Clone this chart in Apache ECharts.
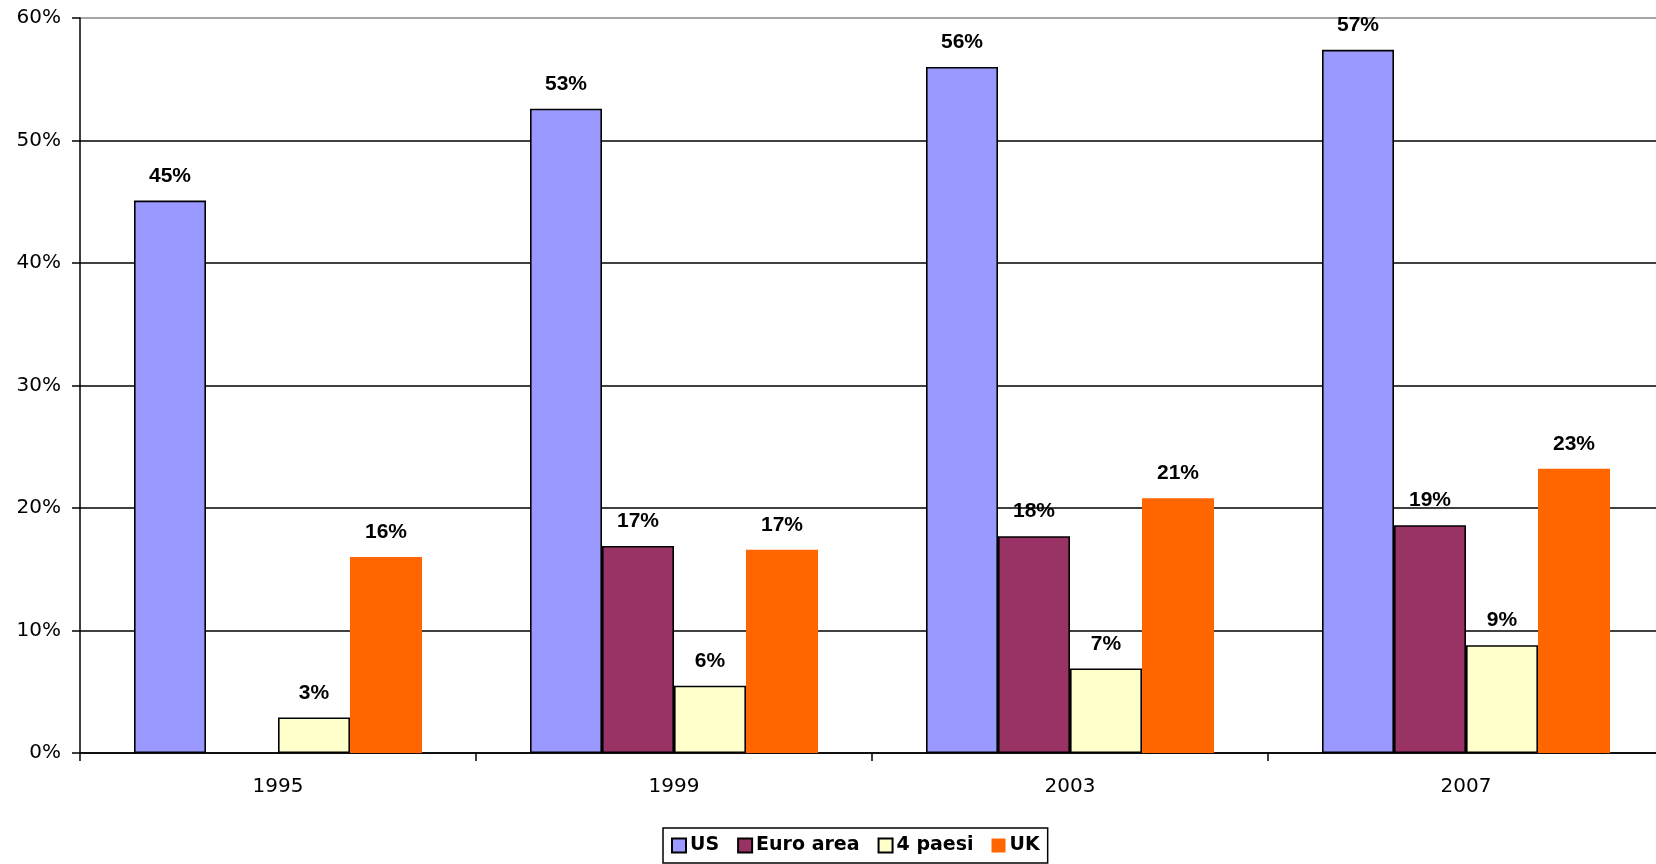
<!DOCTYPE html>
<html>
<head>
<meta charset="utf-8">
<title>Quota percentuale</title>
<script src="https://cdn.jsdelivr.net/npm/echarts@6/dist/echarts.min.js"></script>
<style>
  html, body { margin: 0; padding: 0; background: #fff; }
  #chart { width: 1656px; height: 864px; }
</style>
</head>
<body>
<div id="chart"></div>
<script>
// Years on the category axis
const years = ['1995', '1999', '2003', '2007'];

// Shares in percent per area (null = no figure for that year)
const usValues = [45.1, 52.6, 56.0, 57.4];
const euroValues = [null, 16.9, 17.7, 18.6];
const paesiValues = [2.9, 5.5, 6.9, 8.8];
const ukValues = [16.0, 16.6, 20.8, 23.2];

// Value axis ticks (percent)
const yTicks = [0, 10, 20, 30, 40, 50, 60];

const seriesNames = ['US', 'Euro area', '4 paesi', 'UK'];
const seriesColors = ['#9999FF', '#993366', '#FFFFCC', '#FF6600'];
const seriesData = [usValues, euroValues, paesiValues, ukValues];

const axisFont = 'DejaVu Sans, Verdana, sans-serif';

const labelStyle = {
  show: true,
  position: 'top',
  distance: 14,
  formatter: p => Math.round(p.value) + '%',
  fontFamily: 'Liberation Sans, Arial, sans-serif',
  fontWeight: 'bold',
  fontSize: 21,
  color: '#000'
};

const chart = echarts.init(document.getElementById('chart'), null, { renderer: 'canvas' });

// The plot runs a little past the right edge of the page, so its width is fixed
// explicitly and the grid is not clamped to the container
chart.setOption({
  animation: false,
  backgroundColor: '#fff',
  grid: {
    left: 80, top: 18, width: 1584, height: 735,
    containLabel: false,
    outerBoundsMode: 'none'
  },
  legend: {
    data: seriesNames,
    left: 663,
    top: 828,
    orient: 'horizontal',
    itemWidth: 14,
    itemHeight: 14,
    itemGap: 18,
    padding: [8, 8, 8, 8],
    borderColor: '#000',
    borderWidth: 1.5,
    textStyle: {
      fontFamily: axisFont,
      fontWeight: 'bold',
      fontSize: 19,
      color: '#000',
      padding: [0, 0, 0, -1]
    },
    icon: 'rect'
  },
  xAxis: {
    type: 'category',
    data: years,
    boundaryGap: true,
    axisLine: { lineStyle: { color: '#000', width: 1.5 } },
    axisTick: { show: true, length: 8, inside: false, lineStyle: { color: '#000', width: 1.5 } },
    axisLabel: {
      margin: 24,
      fontFamily: axisFont,
      fontSize: 20,
      color: '#000'
    }
  },
  yAxis: {
    type: 'value',
    min: yTicks[0],
    max: yTicks[yTicks.length - 1],
    interval: 10,
    axisLine: { show: true, lineStyle: { color: '#000', width: 1.5 } },
    axisTick: { show: true, length: 8, lineStyle: { color: '#000', width: 1.5 } },
    axisLabel: {
      margin: 19,
      formatter: v => v + '%',
      fontFamily: axisFont,
      fontSize: 20,
      color: '#000'
    },
    splitLine: {
      show: true,
      lineStyle: {
        color: ['#000', '#000', '#000', '#000', '#000', '#000', '#888'],
        width: 1.5
      }
    }
  },
  series: seriesNames.map((name, i) => ({
    name: name,
    type: 'bar',
    data: seriesData[i],
    barWidth: 72,
    barGap: '0%',
    itemStyle: {
      color: seriesColors[i],
      borderColor: name === 'UK' ? seriesColors[i] : '#000',
      borderWidth: name === 'UK' ? 0 : 1.6
    },
    label: labelStyle
  }))
});
</script>
</body>
</html>
